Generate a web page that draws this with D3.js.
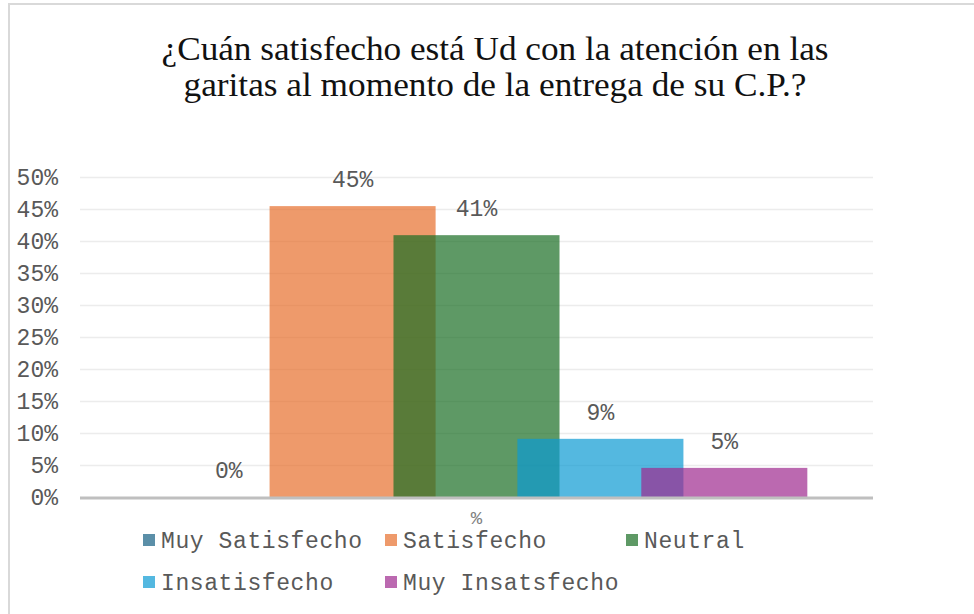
<!DOCTYPE html>
<html>
<head>
<meta charset="utf-8">
<script src="https://cdn.jsdelivr.net/npm/d3@7"></script>
<style>
  body { margin: 0; background: #fff; }
  svg { display: block; }
</style>
</head>
<body>
<svg id="chart"></svg>
<script>
// datos (n = 22)
const titleLines = ["¿Cuán satisfecho está Ud con la atención en las", "garitas al momento de la entrega de su C.P.?"];
const category = "%";
const series = ["Muy Satisfecho", "Satisfecho", "Neutral", "Insatisfecho", "Muy Insatsfecho"];
const values = [0, 0.4545, 0.4091, 0.0909, 0.0455];
const colors = ["#155f83", "#e76f2c", "#196d24", "#0c9ad3", "#9e2a8e"];
const yTicks = [0, 0.05, 0.10, 0.15, 0.20, 0.25, 0.30, 0.35, 0.40, 0.45, 0.50];

const width = 974, height = 614;
const margin = { left: 80, right: 101, top: 177, bottom: 117 };
const mono = "'Liberation Mono', 'Courier New', monospace";

const svg = d3.select('#chart')
    .attr('width', width)
    .attr('height', height);

// marco
svg.append('rect')
    .attr('x', 9).attr('y', 4)
    .attr('width', width + 20).attr('height', height + 20)
    .attr('fill', 'none')
    .attr('stroke', '#d9d9d9')
    .attr('stroke-width', 2);

// titulo
const titleWidths = [667, 623];
svg.selectAll('.title')
    .data(titleLines)
    .enter()
    .append('text')
    .attr('x', 495)
    .attr('y', (d, i) => 60 + i * 36)
    .attr('text-anchor', 'middle')
    .attr('textLength', (d, i) => titleWidths[i])
    .attr('lengthAdjust', 'spacingAndGlyphs')
    .style('font-family', "'Liberation Serif', 'Times New Roman', serif")
    .style('font-size', '33px')
    .style('fill', '#111')
    .text(d => d);

const x0 = margin.left, x1 = width - margin.right;
const y0 = height - margin.bottom, y1 = margin.top;

const yScale = d3.scaleLinear().domain([0, 0.5]).range([y0, y1]);

const xBand = d3.scaleBand().domain([category]).range([x0, x1]).padding(0);
const xSeries = d3.scalePoint()
    .domain(series)
    .range([x0, x1])
    .padding(1.2);
const barW = xSeries.step() * 1.34;

const chart = svg.append('g');

// lineas de cuadricula
chart.append('g')
    .attr('transform', `translate(${x0},0)`)
    .call(d3.axisLeft(yScale).tickValues(yTicks.slice(1)).tickSize(-(x1 - x0)).tickFormat(''))
    .call(g => g.select('.domain').remove())
    .call(g => g.selectAll('line').attr('stroke', '#ececec').attr('stroke-width', 1.5));

// etiquetas eje y
chart.append('g')
    .attr('transform', `translate(${x0 - 22},0)`)
    .call(d3.axisLeft(yScale).tickValues(yTicks).tickSize(0).tickFormat(d3.format('.0%')))
    .call(g => g.select('.domain').remove())
    .call(g => g.selectAll('text')
        .attr('x', 0)
        .style('font-family', mono)
        .style('font-size', '23px')
        .style('fill', '#595959'));

// barras
chart.selectAll('.bar')
    .data(series)
    .enter()
    .append('rect')
    .attr('x', d => xSeries(d) - barW / 2)
    .attr('y', (d, i) => yScale(values[i]))
    .attr('width', barW)
    .attr('height', (d, i) => y0 - yScale(values[i]))
    .attr('fill', (d, i) => colors[i])
    .attr('fill-opacity', 0.7);

// eje x
chart.append('line')
    .attr('x1', x0).attr('x2', x1)
    .attr('y1', y0 + 1).attr('y2', y0 + 1)
    .attr('stroke', '#bfbfbf')
    .attr('stroke-width', 3);

// etiqueta de categoria
chart.append('text')
    .attr('x', xBand(category) + xBand.bandwidth() / 2)
    .attr('y', y0 + 20)
    .attr('text-anchor', 'middle')
    .attr('dy', '0.35em')
    .style('font-family', mono)
    .style('font-size', '19px')
    .style('fill', '#7f7f7f')
    .text(category);

// etiquetas de datos
chart.selectAll('.lbl')
    .data(series)
    .enter()
    .append('text')
    .attr('x', d => xSeries(d))
    .attr('y', (d, i) => yScale(values[i]) - 19)
    .attr('text-anchor', 'middle')
    .style('font-family', mono)
    .style('font-size', '23px')
    .style('fill', '#595959')
    .text((d, i) => d3.format('.0%')(values[i]));

// leyenda
const legendPos = [[143, 540], [385, 540], [626, 540], [143, 582], [385, 582]];
const legend = svg.selectAll('.legend')
    .data(series)
    .enter()
    .append('g')
    .attr('transform', (d, i) => `translate(${legendPos[i][0]},${legendPos[i][1]})`);

legend.append('rect')
    .attr('x', 0).attr('y', -6)
    .attr('width', 12).attr('height', 12)
    .attr('fill', (d, i) => colors[i])
    .attr('fill-opacity', 0.7);

legend.append('text')
    .attr('x', 18)
    .attr('dy', '0.35em')
    .style('font-family', mono)
    .style('font-size', '23px')
    .style('letter-spacing', '0.6px')
    .style('fill', '#595959')
    .text(d => d);
</script>
</body>
</html>
